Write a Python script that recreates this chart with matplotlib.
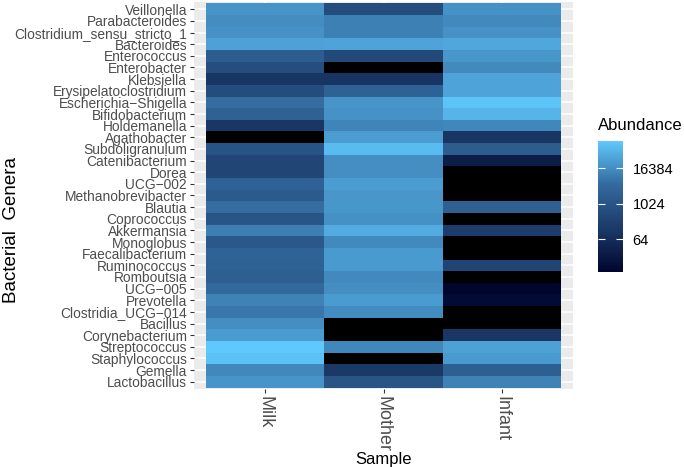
import numpy as np
import matplotlib
matplotlib.use('Agg')
import matplotlib.pyplot as plt
from matplotlib.colors import LinearSegmentedColormap, LogNorm
from matplotlib.ticker import FixedLocator, FixedFormatter

plt.rcParams['font.family'] = ['Liberation Sans', 'DejaVu Sans']

genera = ['Veillonella', 'Parabacteroides', 'Clostridium_sensu_stricto_1',
          'Bacteroides', 'Enterococcus', 'Enterobacter', 'Klebsiella',
          'Erysipelatoclostridium', 'Escherichia\u2212Shigella', 'Bifidobacterium',
          'Holdemanella', 'Agathobacter', 'Subdoligranulum', 'Catenibacterium',
          'Dorea', 'UCG\u2212002', 'Methanobrevibacter', 'Blautia', 'Coprococcus',
          'Akkermansia', 'Monoglobus', 'Faecalibacterium', 'Ruminococcus',
          'Romboutsia', 'UCG\u2212005', 'Prevotella', 'Clostridia_UCG\u2212014',
          'Bacillus', 'Corynebacterium', 'Streptococcus', 'Staphylococcus',
          'Gemella', 'Lactobacillus']
samples = ['Milk', 'Mother', 'Infant']

# abundance per genus (0 = not detected)
milk = [20000, 16000, 19000, 33000, 1800, 600, 110, 510, 5000, 2500, 120, 0,
        900, 360, 360, 2500, 1550, 5000, 1000, 9400, 1260, 2700, 2500, 2000,
        4100, 10800, 7100, 16400, 26600, 135000, 106000, 13300, 20000]
mother = [510, 10000, 10000, 35000, 450, 0, 104, 2350, 20000, 18800, 11600,
          28500, 86000, 16400, 16400, 28500, 21600, 23000, 17500, 49700, 14300,
          24800, 24800, 14300, 16400, 26600, 15300, 0, 0, 12400, 0, 147, 1020]
infant = [18800, 14300, 18800, 40000, 23000, 14300, 35000, 35000, 114000,
          65500, 12400, 111, 1780, 23, 0, 0, 0, 2200, 0, 181, 0, 0, 294, 0,
          5, 7, 0, 0, 119, 32800, 24800, 2050, 10800]
breaks = [64, 1024, 16384]

mat = np.array([milk, mother, infant], dtype=float).T
mat = np.ma.masked_where(mat <= 0, mat)

cmap = LinearSegmentedColormap.from_list(
    'abund', ['#00052E', '#1B3A68', '#336A9E', '#5FC8FC'])
cmap.set_bad('black')
norm = LogNorm(vmin=5, vmax=135000)

fig = plt.figure(figsize=(6.84, 4.67), dpi=100)
ax = fig.add_axes([194 / 684, 1 - 389 / 467, 379 / 684, 387 / 467])
ax.set_facecolor('#EBEBEB')
for s in ax.spines.values():
    s.set_visible(False)

x = np.arange(len(samples))
y = np.arange(len(genera))
ax.set_yticks(y)
ax.set_xticks(x)
ax.grid(True, color='white', linewidth=1.1)
ax.set_axisbelow(True)
ax.pcolormesh(np.arange(len(samples) + 1) - 0.5, np.arange(len(genera) + 1) - 0.5,
              mat, cmap=cmap, norm=norm, zorder=2)
ax.set_xlim(-0.6, len(samples) - 0.4)
ax.set_ylim(len(genera) - 0.38, -0.62)

ax.set_yticklabels(genera, fontsize=9.9, color='#4D4D4D')
ax.set_xticklabels(samples, fontsize=13, color='#4D4D4D', rotation=270,
                   va='top', ha='center')
ax.tick_params(length=3, color='#333333', width=0.8, pad=2)
ax.set_xlabel('Sample', fontsize=12, labelpad=0)
fig.text(12 / 684, 1 - 230 / 467, 'Bacterial  Genera', fontsize=13.5,
         rotation=90, ha='center', va='center')

cax = fig.add_axes([598 / 684, 1 - 272 / 467, 25 / 684, 131 / 467])
sm = plt.cm.ScalarMappable(norm=norm, cmap=cmap)
cb = fig.colorbar(sm, cax=cax)
cb.outline.set_visible(False)
cb.minorticks_off()
cax.yaxis.set_major_locator(FixedLocator(breaks))
cax.yaxis.set_major_formatter(FixedFormatter([str(b) for b in breaks]))
cax.tick_params(direction='in', color='white', length=5, width=0.8,
                left=True, right=True, labelleft=False, labelright=True,
                labelsize=10.5, pad=7)
fig.text(598 / 684, 1 - 126 / 467, 'Abundance', fontsize=12, va='center', ha='left')

fig.savefig('out.png', dpi=100)
